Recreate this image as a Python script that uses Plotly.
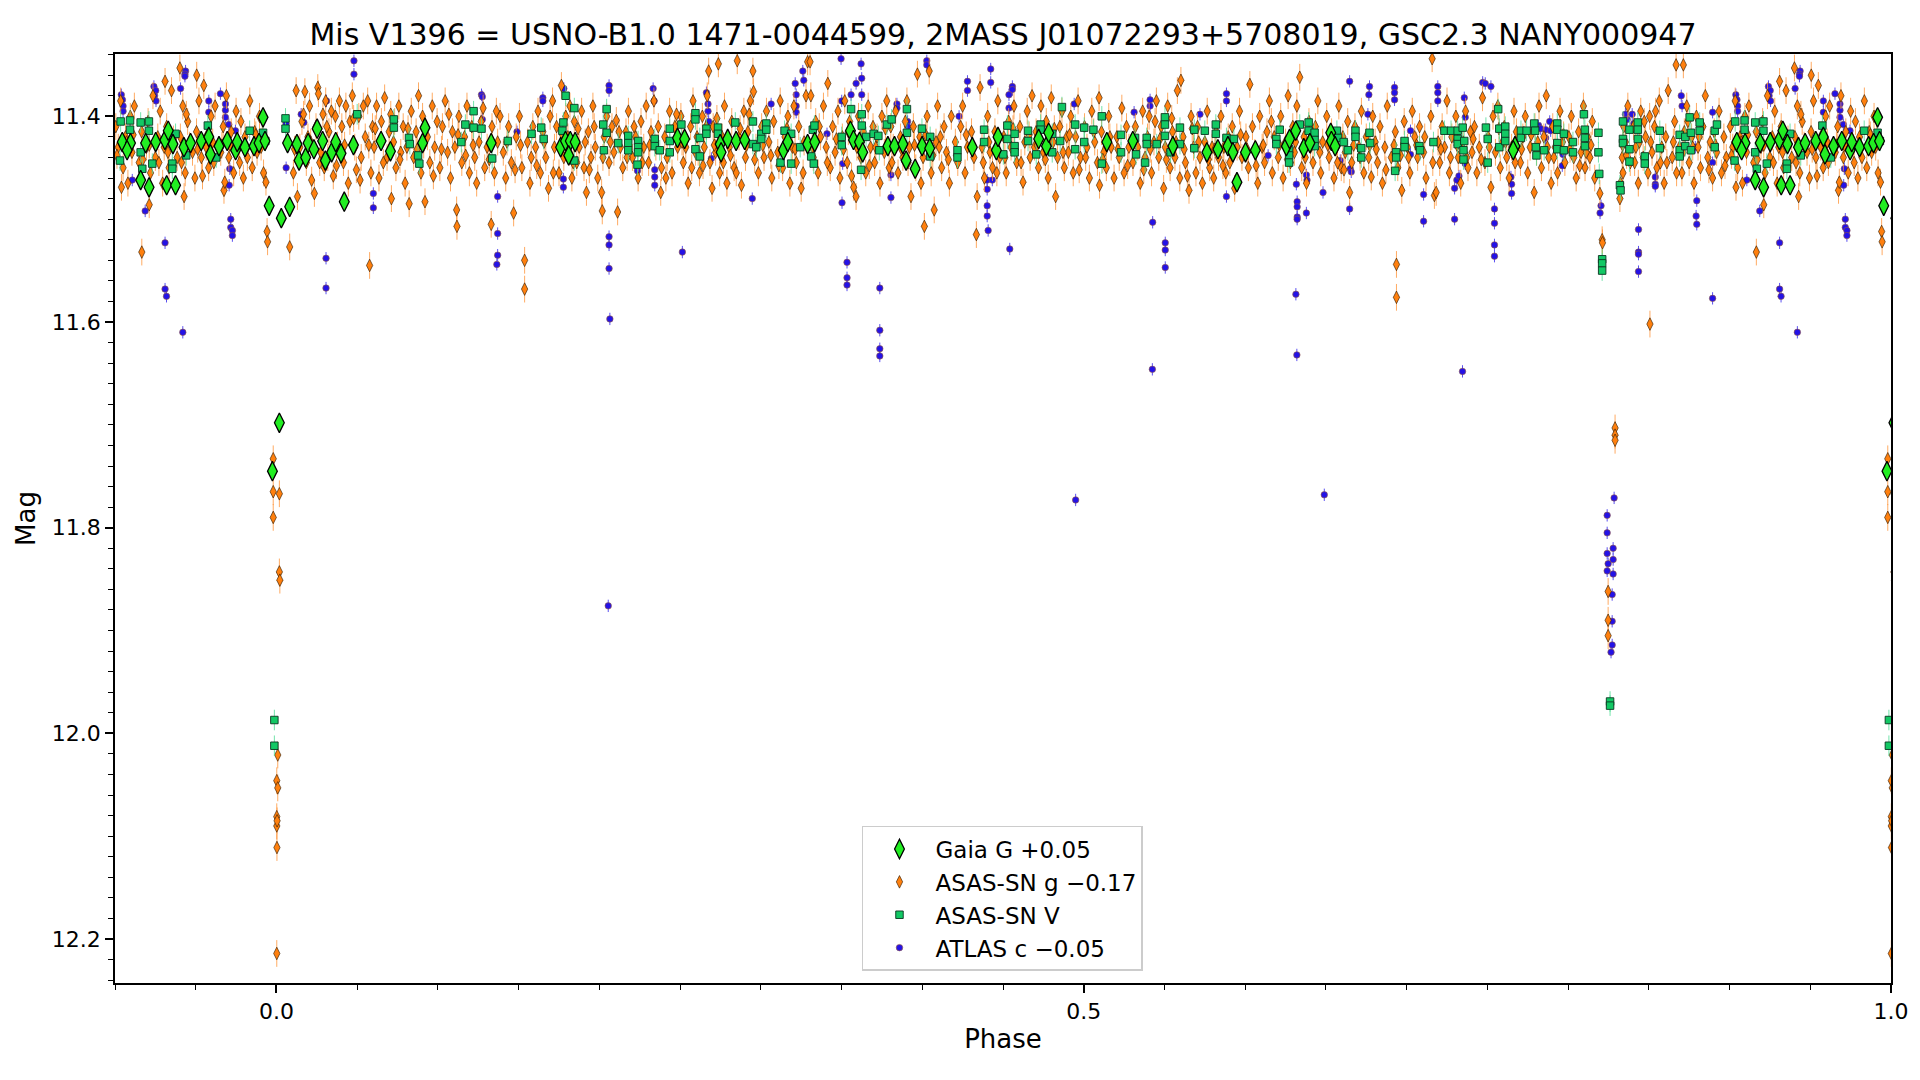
import plotly.graph_objects as go

TITLE = "Mis V1396 = USNO-B1.0 1471-0044599, 2MASS J01072293+5708019, GSC2.3 NANY000947"
NAMES = ["Gaia G +0.05", "ASAS-SN g \u22120.17", "ASAS-SN V", "ATLAS c \u22120.05"]
X_TICKS = [0.0, 0.5, 1.0]
X_TICK_TEXT = ["0.0", "0.5", "1.0"]
Y_TICKS = [11.4, 11.6, 11.8, 12.0, 12.2]

# typical photometric errors (mag)
ERR_G = 0.013
ERR_V = 0.010
ERR_ATLAS = 0.006

# (phase, mag) readings, phase in [0, 1)
GAIA = [
    (0.0018, 11.698), (0.9975, 11.745), (0.9955, 11.487), (0.0030, 11.499), (0.0082, 11.488),
    (0.0069, 11.426), (0.0127, 11.427), (0.0140, 11.443), (0.0181, 11.440), (0.0196, 11.426),
    (0.0232, 11.432), (0.0252, 11.412), (0.0286, 11.424), (0.0303, 11.443), (0.0342, 11.435),
    (0.0367, 11.425), (0.0400, 11.436), (0.0420, 11.483), (0.0477, 11.428), (0.0648, 11.424),
    (0.0706, 11.434), (0.0905, 11.426), (0.0920, 11.411), (0.1330, 11.426), (0.1760, 11.430),
    (0.1790, 11.424), (0.1820, 11.424), (0.1810, 11.438), (0.1850, 11.425), (0.2484, 11.421),
    (0.2528, 11.422), (0.2748, 11.427), (0.2754, 11.435), (0.2795, 11.422), (0.2847, 11.424),
    (0.2900, 11.423), (0.3140, 11.433), (0.3167, 11.425), (0.3290, 11.427), (0.3334, 11.425),
    (0.3555, 11.414), (0.3574, 11.423), (0.3611, 11.425), (0.3631, 11.435), (0.3787, 11.429),
    (0.3828, 11.429), (0.3880, 11.427), (0.3900, 11.443), (0.3956, 11.451), (0.3999, 11.429),
    (0.4046, 11.431), (0.4310, 11.430), (0.4459, 11.433), (0.4469, 11.420), (0.4721, 11.422),
    (0.4769, 11.429), (0.4783, 11.416), (0.5143, 11.425), (0.5304, 11.424), (0.5552, 11.429),
    (0.5763, 11.435), (0.5831, 11.432), (0.5893, 11.429), (0.5924, 11.435), (0.5949, 11.464),
    (0.6002, 11.435), (0.6063, 11.433), (0.6255, 11.429), (0.6275, 11.422), (0.6313, 11.414),
    (0.6363, 11.431), (0.6401, 11.426), (0.6530, 11.416), (0.6534, 11.424), (0.6557, 11.429),
    (0.7671, 11.429), (0.7660, 11.433), (0.9045, 11.425), (0.9096, 11.426), (0.9075, 11.433),
    (0.9159, 11.462), (0.9211, 11.469), (0.9190, 11.426), (0.9252, 11.425), (0.9309, 11.423),
    (0.9330, 11.414), (0.9320, 11.467), (0.9375, 11.467), (0.9359, 11.427), (0.9427, 11.430),
    (0.9468, 11.426), (0.9534, 11.424), (0.9581, 11.420), (0.9591, 11.437), (0.9644, 11.429),
    (0.9695, 11.424), (0.9747, 11.433), (0.9757, 11.425), (0.9805, 11.430), (0.9861, 11.429),
    (0.9892, 11.426), (0.9929, 11.424), (0.9917, 11.401),
]

ASASSN_G = [
    (0.0002, 12.046), (0.0002, 12.081), (0.0002, 12.090), (0.0002, 12.214), (0.0003, 12.111),
    (0.0004, 12.085), (0.0008, 12.021), (0.0008, 12.053), (0.0018, 11.767), (0.0018, 11.843),
    (0.0021, 11.851), (0.0082, 11.527),
    (0.0105, 11.455), (0.0122, 11.375), (0.0130, 11.478), (0.0145, 11.430), (0.0158, 11.405), (0.0176, 11.376), (0.0185, 11.445), (0.0195, 11.420),
    (0.0205, 11.390), (0.0218, 11.462), (0.0235, 11.475), (0.0245, 11.410), (0.0256, 11.372), (0.0260, 11.378), (0.0275, 11.435), (0.0288, 11.398), (0.0296, 11.450),
    (0.0305, 11.385), (0.0318, 11.440), (0.0325, 11.415), (0.0340, 11.395), (0.0352, 11.458), (0.0365, 11.400), (0.0378, 11.428), (0.0390, 11.385),
    (0.0405, 11.410), (0.0415, 11.445), (0.0430, 11.390), (0.0445, 11.465), (0.0455, 11.405), (0.0470, 11.380), (0.0485, 11.430), (0.0495, 11.452),
    (0.0510, 11.400), (0.0525, 11.440), (0.0538, 11.390), (0.0550, 11.420), (0.0565, 11.385), (0.0577, 11.545), (0.0585, 11.455), (0.0595, 11.410),
    (0.0605, 11.430), (0.0620, 11.390), (0.0635, 11.460), (0.0650, 11.405), (0.0670, 11.382), (0.0685, 11.440), (0.0698, 11.415),
    (0.0708, 11.398), (0.0712, 11.480), (0.0725, 11.425), (0.0740, 11.450), (0.0758, 11.390), (0.0770, 11.435), (0.0785, 11.410), (0.0797, 11.465),
    (0.0808, 11.430), (0.0822, 11.485), (0.0835, 11.395), (0.0850, 11.440), (0.0865, 11.415), (0.0880, 11.380), (0.0895, 11.455),
    (0.0905, 11.400), (0.0920, 11.483), (0.0935, 11.420), (0.0950, 11.445), (0.0965, 11.390), (0.0980, 11.430), (0.0995, 11.405),
    (0.1012, 11.450), (0.1028, 11.410), (0.1045, 11.385), (0.1060, 11.435), (0.1078, 11.460), (0.1090, 11.415),
    (0.1105, 11.430), (0.1116, 11.491), (0.1118, 11.507), (0.1130, 11.400), (0.1148, 11.445), (0.1165, 11.420), (0.1180, 11.390), (0.1195, 11.455),
    (0.1210, 11.410), (0.1228, 11.440), (0.1240, 11.465), (0.1255, 11.425), (0.1280, 11.392), (0.1290, 11.450),
    (0.1305, 11.430), (0.1330, 11.505), (0.1335, 11.410), (0.1350, 11.455), (0.1370, 11.425), (0.1385, 11.400),
    (0.1405, 11.435), (0.1420, 11.460), (0.1438, 11.410), (0.1455, 11.445), (0.1469, 11.494), (0.1485, 11.420),
    (0.1505, 11.400), (0.1520, 11.450), (0.1537, 11.540), (0.1537, 11.568), (0.1555, 11.425), (0.1570, 11.465), (0.1588, 11.410),
    (0.1605, 11.430), (0.1620, 11.395), (0.1635, 11.455), (0.1650, 11.415), (0.1668, 11.440), (0.1685, 11.470), (0.1695, 11.400),
    (0.1710, 11.385), (0.1722, 11.430), (0.1735, 11.410), (0.1750, 11.455), (0.1765, 11.370), (0.1780, 11.440), (0.1792, 11.400),
    (0.1805, 11.420), (0.1818, 11.390), (0.1830, 11.460), (0.1845, 11.405), (0.1860, 11.445), (0.1875, 11.430), (0.1890, 11.395),
    (0.1905, 11.450), (0.1920, 11.474), (0.1932, 11.415), (0.1948, 11.440), (0.1960, 11.390), (0.1975, 11.430), (0.1990, 11.460),
    (0.2014, 11.474), (0.2018, 11.492), (0.2030, 11.420), (0.2045, 11.400), (0.2060, 11.445), (0.2078, 11.410), (0.2090, 11.435),
    (0.2105, 11.404), (0.2113, 11.493), (0.2130, 11.430), (0.2145, 11.450), (0.2165, 11.415), (0.2180, 11.395),
    (0.2205, 11.440), (0.2225, 11.420), (0.2240, 11.460), (0.2258, 11.405), (0.2275, 11.430), (0.2290, 11.390),
    (0.2305, 11.445), (0.2320, 11.415), (0.2338, 11.385), (0.2350, 11.430), (0.2380, 11.474), (0.2385, 11.450),
    (0.2405, 11.420), (0.2420, 11.440), (0.2435, 11.395), (0.2450, 11.455), (0.2468, 11.410), (0.2485, 11.430),
    (0.2505, 11.400), (0.2520, 11.445), (0.2535, 11.430), (0.2550, 11.465), (0.2565, 11.410), (0.2580, 11.385), (0.2595, 11.435),
    (0.2605, 11.420), (0.2620, 11.455), (0.2638, 11.400), (0.2650, 11.430), (0.2668, 11.380), (0.2677, 11.356), (0.2685, 11.445), (0.2698, 11.470),
    (0.2705, 11.410), (0.2720, 11.435), (0.2737, 11.349), (0.2745, 11.455), (0.2760, 11.420), (0.2775, 11.390), (0.2790, 11.465),
    (0.2805, 11.430), (0.2820, 11.405), (0.2835, 11.450), (0.2854, 11.346), (0.2865, 11.420), (0.2880, 11.467), (0.2895, 11.395),
    (0.2905, 11.440), (0.2920, 11.415), (0.2935, 11.385), (0.2951, 11.356), (0.2955, 11.376), (0.2970, 11.430), (0.2985, 11.455),
    (0.3005, 11.410), (0.3020, 11.440), (0.3035, 11.395), (0.3050, 11.425), (0.3068, 11.460), (0.3080, 11.405),
    (0.3105, 11.435), (0.3120, 11.385), (0.3135, 11.450), (0.3150, 11.420), (0.3168, 11.400), (0.3180, 11.465), (0.3195, 11.430),
    (0.3205, 11.390), (0.3220, 11.445), (0.3235, 11.410), (0.3250, 11.470), (0.3268, 11.425), (0.3280, 11.380), (0.3290, 11.347),
    (0.3305, 11.347), (0.3310, 11.380), (0.3325, 11.440), (0.3340, 11.405), (0.3355, 11.455), (0.3370, 11.420), (0.3388, 11.390),
    (0.3405, 11.430), (0.3415, 11.368), (0.3430, 11.450), (0.3445, 11.410), (0.3460, 11.435), (0.3478, 11.395), (0.3490, 11.460),
    (0.3505, 11.420), (0.3520, 11.385), (0.3535, 11.445), (0.3550, 11.405), (0.3575, 11.469), (0.3590, 11.478), (0.3595, 11.430),
    (0.3605, 11.400), (0.3620, 11.440), (0.3635, 11.415), (0.3650, 11.455), (0.3665, 11.390), (0.3680, 11.430), (0.3695, 11.410),
    (0.3705, 11.445), (0.3720, 11.420), (0.3738, 11.465), (0.3750, 11.400), (0.3765, 11.435), (0.3780, 11.385), (0.3795, 11.450),
    (0.3805, 11.410), (0.3820, 11.430), (0.3835, 11.395), (0.3850, 11.455), (0.3865, 11.420), (0.3880, 11.440), (0.3895, 11.405),
    (0.3905, 11.385), (0.3920, 11.430), (0.3930, 11.478), (0.3945, 11.410), (0.3960, 11.450), (0.3970, 11.359), (0.3985, 11.420),
    (0.4005, 11.440), (0.4013, 11.507), (0.4030, 11.400), (0.4043, 11.356), (0.4055, 11.455), (0.4074, 11.491), (0.4085, 11.425), (0.4095, 11.390),
    (0.4105, 11.430), (0.4120, 11.450), (0.4135, 11.410), (0.4150, 11.435), (0.4168, 11.465), (0.4180, 11.400),
    (0.4205, 11.425), (0.4220, 11.445), (0.4238, 11.410), (0.4250, 11.390), (0.4265, 11.455), (0.4280, 11.430),
    (0.4305, 11.415), (0.4320, 11.440), (0.4335, 11.515), (0.4340, 11.478), (0.4358, 11.372), (0.4370, 11.430), (0.4385, 11.460),
    (0.4405, 11.400), (0.4420, 11.435), (0.4435, 11.450), (0.4450, 11.415), (0.4468, 11.385), (0.4480, 11.440),
    (0.4505, 11.420), (0.4520, 11.455), (0.4535, 11.405), (0.4550, 11.430), (0.4568, 11.390), (0.4585, 11.445),
    (0.4605, 11.410), (0.4624, 11.464), (0.4635, 11.425), (0.4650, 11.395), (0.4668, 11.440), (0.4680, 11.380), (0.4695, 11.430),
    (0.4705, 11.415), (0.4720, 11.450), (0.4735, 11.390), (0.4750, 11.435), (0.4768, 11.405), (0.4780, 11.460), (0.4799, 11.382),
    (0.4810, 11.425), (0.4826, 11.478), (0.4838, 11.440), (0.4852, 11.410), (0.4865, 11.395), (0.4880, 11.450), (0.4895, 11.420),
    (0.4905, 11.435), (0.4920, 11.400), (0.4935, 11.455), (0.4950, 11.420), (0.4965, 11.385), (0.4980, 11.440),
    (0.5005, 11.410), (0.5020, 11.430), (0.5035, 11.460), (0.5050, 11.395), (0.5068, 11.425), (0.5085, 11.445), (0.5095, 11.382),
    (0.5098, 11.467), (0.5110, 11.415), (0.5125, 11.435), (0.5140, 11.450), (0.5155, 11.400), (0.5170, 11.430), (0.5188, 11.460),
    (0.5205, 11.420), (0.5220, 11.440), (0.5236, 11.392), (0.5250, 11.455), (0.5265, 11.410), (0.5280, 11.430),
    (0.5305, 11.445), (0.5320, 11.410), (0.5335, 11.430), (0.5350, 11.465), (0.5365, 11.395), (0.5380, 11.440), (0.5395, 11.420),
    (0.5405, 11.400), (0.5420, 11.455), (0.5435, 11.425), (0.5450, 11.385), (0.5465, 11.440), (0.5480, 11.410), (0.5495, 11.470),
    (0.5505, 11.430), (0.5520, 11.390), (0.5535, 11.450), (0.5550, 11.415), (0.5565, 11.440), (0.5580, 11.375), (0.5595, 11.460),
    (0.5602, 11.365), (0.5615, 11.420), (0.5630, 11.445), (0.5652, 11.472), (0.5665, 11.400), (0.5680, 11.430), (0.5695, 11.455),
    (0.5705, 11.410), (0.5720, 11.440), (0.5735, 11.465), (0.5750, 11.425), (0.5765, 11.395), (0.5780, 11.450), (0.5795, 11.430),
    (0.5805, 11.460), (0.5820, 11.415), (0.5835, 11.440), (0.5850, 11.400), (0.5868, 11.430), (0.5880, 11.455), (0.5895, 11.420),
    (0.5905, 11.445), (0.5920, 11.410), (0.5935, 11.470), (0.5950, 11.430), (0.5965, 11.395), (0.5980, 11.440),
    (0.6005, 11.420), (0.6020, 11.450), (0.6029, 11.369), (0.6045, 11.410), (0.6060, 11.435), (0.6078, 11.465), (0.6090, 11.400),
    (0.6105, 11.430), (0.6120, 11.445), (0.6135, 11.415), (0.6150, 11.385), (0.6168, 11.455), (0.6180, 11.420),
    (0.6205, 11.440), (0.6220, 11.400), (0.6235, 11.460), (0.6250, 11.425), (0.6266, 11.380), (0.6280, 11.445), (0.6295, 11.410),
    (0.6305, 11.435), (0.6320, 11.390), (0.6338, 11.362), (0.6350, 11.450), (0.6365, 11.420), (0.6380, 11.465), (0.6395, 11.405),
    (0.6405, 11.430), (0.6420, 11.445), (0.6435, 11.410), (0.6450, 11.385), (0.6468, 11.455), (0.6480, 11.425),
    (0.6505, 11.400), (0.6520, 11.440), (0.6535, 11.415), (0.6550, 11.460), (0.6565, 11.430), (0.6580, 11.390), (0.6595, 11.450),
    (0.6605, 11.420), (0.6620, 11.435), (0.6635, 11.405), (0.6647, 11.474), (0.6660, 11.445), (0.6680, 11.410),
    (0.6705, 11.430), (0.6720, 11.395), (0.6735, 11.455), (0.6750, 11.420), (0.6765, 11.440), (0.6781, 11.459), (0.6790, 11.400),
    (0.6805, 11.425), (0.6820, 11.445), (0.6835, 11.410), (0.6850, 11.465), (0.6865, 11.430), (0.6880, 11.390),
    (0.6905, 11.440), (0.6937, 11.544), (0.6937, 11.576), (0.6930, 11.415), (0.6945, 11.450), (0.6970, 11.472), (0.6985, 11.405),
    (0.7005, 11.430), (0.7020, 11.455), (0.7035, 11.395), (0.7050, 11.420), (0.7068, 11.440), (0.7080, 11.410),
    (0.7105, 11.435), (0.7120, 11.460), (0.7158, 11.344), (0.7150, 11.400), (0.7172, 11.477), (0.7183, 11.474), (0.7195, 11.425),
    (0.7205, 11.445), (0.7220, 11.410), (0.7235, 11.430), (0.7250, 11.385), (0.7265, 11.455), (0.7280, 11.420),
    (0.7305, 11.400), (0.7320, 11.440), (0.7335, 11.465), (0.7350, 11.425), (0.7365, 11.395), (0.7380, 11.450), (0.7395, 11.415),
    (0.7405, 11.435), (0.7420, 11.410), (0.7435, 11.455), (0.7450, 11.430), (0.7470, 11.382), (0.7485, 11.445),
    (0.7505, 11.420), (0.7522, 11.469), (0.7535, 11.400), (0.7550, 11.435), (0.7565, 11.390), (0.7580, 11.450), (0.7595, 11.425),
    (0.7605, 11.410), (0.7620, 11.440), (0.7635, 11.460), (0.7650, 11.430), (0.7665, 11.395), (0.7680, 11.415),
    (0.7705, 11.445), (0.7720, 11.420), (0.7735, 11.400), (0.7750, 11.455), (0.7765, 11.430), (0.7790, 11.474), (0.7795, 11.410),
    (0.7805, 11.435), (0.7820, 11.390), (0.7835, 11.450), (0.7850, 11.420), (0.7865, 11.380), (0.7880, 11.440), (0.7895, 11.465),
    (0.7905, 11.410), (0.7920, 11.430), (0.7935, 11.455), (0.7950, 11.395), (0.7965, 11.425), (0.7980, 11.445),
    (0.8005, 11.420), (0.8020, 11.400), (0.8035, 11.440), (0.8050, 11.460), (0.8065, 11.415), (0.8080, 11.435), (0.8095, 11.390),
    (0.8105, 11.450), (0.8120, 11.420), (0.8135, 11.440), (0.8150, 11.405), (0.8165, 11.460), (0.8197, 11.475), (0.8211, 11.520), (0.8213, 11.523),
    (0.8248, 11.862), (0.8248, 11.890), (0.8248, 11.905), (0.8291, 11.703), (0.8291, 11.710), (0.8291, 11.715),
    (0.8321, 11.480), (0.8325, 11.465), (0.8335, 11.440), (0.8345, 11.410), (0.8340, 11.455), (0.8355, 11.425), (0.8370, 11.390), (0.8385, 11.445),
    (0.8405, 11.410), (0.8420, 11.430), (0.8435, 11.465), (0.8450, 11.395), (0.8465, 11.440), (0.8507, 11.602), (0.8480, 11.420), (0.8495, 11.455),
    (0.8505, 11.400), (0.8520, 11.435), (0.8535, 11.410), (0.8550, 11.450), (0.8565, 11.385), (0.8580, 11.430), (0.8595, 11.465),
    (0.8605, 11.420), (0.8620, 11.375), (0.8669, 11.350), (0.8645, 11.440), (0.8660, 11.405), (0.8714, 11.350), (0.8690, 11.430),
    (0.8705, 11.455), (0.8720, 11.415), (0.8735, 11.390), (0.8750, 11.445), (0.8765, 11.420), (0.8780, 11.465), (0.8795, 11.400),
    (0.8805, 11.430), (0.8820, 11.450), (0.8835, 11.410), (0.8850, 11.380), (0.8865, 11.440), (0.8880, 11.425), (0.8895, 11.460),
    (0.8905, 11.415), (0.8920, 11.435), (0.8935, 11.395), (0.8950, 11.455), (0.8965, 11.420), (0.8980, 11.440),
    (0.9005, 11.410), (0.9020, 11.430), (0.9035, 11.385), (0.9040, 11.469), (0.9050, 11.450), (0.9065, 11.420), (0.9080, 11.465), (0.9095, 11.400),
    (0.9105, 11.435), (0.9120, 11.390), (0.9166, 11.532), (0.9150, 11.445), (0.9165, 11.415), (0.9212, 11.486), (0.9195, 11.430),
    (0.9205, 11.405), (0.9220, 11.455), (0.9235, 11.380), (0.9250, 11.440), (0.9265, 11.420), (0.9280, 11.395), (0.9295, 11.465),
    (0.9305, 11.430), (0.9310, 11.366), (0.9320, 11.410), (0.9335, 11.450), (0.9350, 11.375), (0.9402, 11.353), (0.9385, 11.440), (0.9428, 11.478),
    (0.9405, 11.420), (0.9420, 11.390), (0.9435, 11.455), (0.9450, 11.405), (0.9506, 11.360), (0.9480, 11.435), (0.9495, 11.460),
    (0.9505, 11.415), (0.9520, 11.385), (0.9535, 11.440), (0.9550, 11.370), (0.9565, 11.430), (0.9580, 11.450), (0.9595, 11.400),
    (0.9605, 11.425), (0.9620, 11.390), (0.9675, 11.472), (0.9655, 11.435), (0.9670, 11.410), (0.9680, 11.464), (0.9690, 11.380),
    (0.9705, 11.440), (0.9720, 11.415), (0.9735, 11.455), (0.9750, 11.395), (0.9765, 11.430), (0.9780, 11.405), (0.9795, 11.460),
    (0.9805, 11.420), (0.9820, 11.440), (0.9835, 11.385), (0.9850, 11.450), (0.9865, 11.415), (0.9880, 11.435), (0.9895, 11.400),
    (0.9905, 11.430), (0.9920, 11.455), (0.9935, 11.464), (0.9942, 11.512), (0.9945, 11.522),
    (0.9980, 11.733), (0.9980, 11.765), (0.9980, 11.790),
    # denser in-band readings
    (0.0112, 11.432), (0.0168, 11.398), (0.0212, 11.425), (0.0268, 11.445), (0.0312, 11.410), (0.0372, 11.448),
    (0.0422, 11.428), (0.0478, 11.402), (0.0518, 11.462), (0.0572, 11.428), (0.0612, 11.412), (0.0662, 11.445),
    (0.0732, 11.405), (0.0765, 11.442), (0.0815, 11.412), (0.0872, 11.432), (0.0912, 11.428), (0.0972, 11.458),
    (0.1022, 11.432), (0.1068, 11.398), (0.1125, 11.418), (0.1172, 11.438), (0.1218, 11.428), (0.1268, 11.405),
    (0.1318, 11.442), (0.1362, 11.395), (0.1428, 11.425), (0.1478, 11.452), (0.1512, 11.428), (0.1578, 11.440),
    (0.1612, 11.448), (0.1658, 11.425), (0.1715, 11.455), (0.1772, 11.418), (0.1812, 11.435), (0.1868, 11.412),
    (0.1838, 11.445), (0.1912, 11.425), (0.1968, 11.410), (0.1938, 11.452), (0.2022, 11.440), (0.2068, 11.425),
    (0.2122, 11.415), (0.2172, 11.440), (0.2215, 11.410), (0.2265, 11.445), (0.2312, 11.428), (0.2365, 11.410),
    (0.2412, 11.460), (0.2478, 11.398), (0.2512, 11.425), (0.2572, 11.450), (0.2612, 11.435), (0.2662, 11.410),
    (0.2642, 11.448), (0.2712, 11.428), (0.2768, 11.445), (0.2728, 11.402), (0.2812, 11.438), (0.2872, 11.412),
    (0.2848, 11.455), (0.2912, 11.428), (0.2962, 11.442), (0.2928, 11.398), (0.3012, 11.428), (0.3062, 11.438),
    (0.3112, 11.448), (0.3162, 11.412), (0.3212, 11.432), (0.3262, 11.455), (0.3318, 11.430), (0.3362, 11.410),
    (0.3412, 11.445), (0.3468, 11.422), (0.3512, 11.432), (0.3562, 11.458), (0.3542, 11.415), (0.3612, 11.425),
    (0.3672, 11.448), (0.3712, 11.430), (0.3772, 11.412), (0.3812, 11.445), (0.3872, 11.432), (0.3912, 11.445),
    (0.3952, 11.428), (0.3992, 11.465), (0.4022, 11.418), (0.4065, 11.438), (0.4112, 11.420), (0.4162, 11.442),
    (0.4212, 11.438), (0.4272, 11.418), (0.4312, 11.428), (0.4378, 11.445), (0.4412, 11.425), (0.4462, 11.455),
    (0.4512, 11.440), (0.4562, 11.412), (0.4612, 11.445), (0.4662, 11.418), (0.4712, 11.428), (0.4762, 11.442),
    (0.4818, 11.412), (0.4872, 11.435), (0.4912, 11.418), (0.4972, 11.452), (0.5012, 11.440), (0.5062, 11.415),
    (0.5118, 11.442), (0.5162, 11.420), (0.5212, 11.432), (0.5272, 11.448), (0.5312, 11.425), (0.5372, 11.452),
    (0.5412, 11.432), (0.5472, 11.422), (0.5442, 11.405), (0.5512, 11.442), (0.5572, 11.425), (0.5545, 11.402),
    (0.5622, 11.432), (0.5672, 11.412), (0.5642, 11.458), (0.5712, 11.425), (0.5772, 11.442), (0.5812, 11.432),
    (0.5862, 11.448), (0.5912, 11.430), (0.5972, 11.418), (0.6012, 11.432), (0.6068, 11.448), (0.6112, 11.428),
    (0.6162, 11.405), (0.6212, 11.428), (0.6262, 11.442), (0.6312, 11.425), (0.6372, 11.440), (0.6412, 11.418),
    (0.6462, 11.435), (0.6512, 11.428), (0.6572, 11.445), (0.6612, 11.452), (0.6672, 11.428), (0.6712, 11.440),
    (0.6772, 11.428), (0.6812, 11.432), (0.6872, 11.452), (0.6922, 11.428), (0.6962, 11.438), (0.7012, 11.440),
    (0.7062, 11.428), (0.7112, 11.420), (0.7162, 11.445), (0.7212, 11.432), (0.7272, 11.440), (0.7312, 11.428),
    (0.7372, 11.440), (0.7412, 11.422), (0.7462, 11.442), (0.7512, 11.430), (0.7572, 11.412), (0.7612, 11.425),
    (0.7672, 11.445), (0.7712, 11.432), (0.7772, 11.418), (0.7812, 11.425), (0.7872, 11.430), (0.7912, 11.440),
    (0.7972, 11.418), (0.8012, 11.432), (0.8072, 11.448), (0.8112, 11.435), (0.8142, 11.428), (0.8338, 11.428),
    (0.8362, 11.438), (0.8412, 11.445), (0.8442, 11.425), (0.8472, 11.405), (0.8512, 11.425), (0.8572, 11.445),
    (0.8542, 11.395), (0.8612, 11.445), (0.8652, 11.425), (0.8672, 11.455), (0.8712, 11.435), (0.8772, 11.430),
    (0.8742, 11.405), (0.8812, 11.420), (0.8872, 11.452), (0.8912, 11.428), (0.8972, 11.448), (0.9012, 11.438),
    (0.9072, 11.425), (0.9112, 11.418), (0.9172, 11.442), (0.9212, 11.428), (0.9272, 11.445), (0.9328, 11.435),
    (0.9362, 11.422), (0.9412, 11.445), (0.9462, 11.428), (0.9442, 11.398), (0.9512, 11.432), (0.9572, 11.418),
    (0.9542, 11.458), (0.9612, 11.445), (0.9662, 11.428), (0.9712, 11.428), (0.9772, 11.445), (0.9812, 11.432),
    (0.9872, 11.418), (0.9912, 11.420),
]

ASASSN_V = [
    (0.9987, 11.987), (0.9987, 12.012), (0.8260, 11.969), (0.8260, 11.973),
    (0.0056, 11.402), (0.0056, 11.412), (0.0500, 11.398), (0.0727, 11.403), (0.0727, 11.411),
    (0.0821, 11.421), (0.0826, 11.427), (0.0877, 11.438), (0.0885, 11.446), (0.1145, 11.425),
    (0.1221, 11.395), (0.1170, 11.408), (0.1221, 11.411), (0.1270, 11.412), (0.1336, 11.441),
    (0.1433, 11.424), (0.1580, 11.417), (0.1655, 11.422), (0.1640, 11.411),
    (0.1791, 11.380), (0.1845, 11.392), (0.1777, 11.406), (0.1771, 11.414), (0.1845, 11.443),
    (0.2045, 11.393), (0.2045, 11.416), (0.2024, 11.408), (0.2028, 11.433), (0.2117, 11.426),
    (0.2179, 11.419), (0.2179, 11.426), (0.2179, 11.433), (0.2240, 11.424), (0.2240, 11.430),
    (0.2240, 11.435), (0.2236, 11.447), (0.2343, 11.422), (0.2343, 11.429), (0.2374, 11.433),
    (0.2436, 11.412), (0.2436, 11.424), (0.2436, 11.435), (0.2508, 11.408), (0.2595, 11.397),
    (0.2595, 11.403), (0.2595, 11.432), (0.2622, 11.421), (0.2622, 11.439), (0.2663, 11.412),
    (0.2663, 11.417), (0.2735, 11.411), (0.2735, 11.417), (0.2842, 11.406), (0.2951, 11.405),
    (0.2951, 11.427), (0.2972, 11.430), (0.3003, 11.417), (0.3003, 11.422), (0.3034, 11.407),
    (0.3034, 11.413), (0.3122, 11.445), (0.3147, 11.414), (0.3188, 11.417), (0.3188, 11.446),
    (0.3244, 11.430), (0.3322, 11.413), (0.3332, 11.409), (0.3312, 11.439), (0.3328, 11.446),
    (0.3501, 11.420), (0.3501, 11.428), (0.3559, 11.393), (0.3625, 11.398), (0.3625, 11.409),
    (0.3621, 11.452), (0.3652, 11.420), (0.3699, 11.417), (0.3728, 11.419), (0.3734, 11.433),
    (0.3781, 11.408), (0.3810, 11.403), (0.3905, 11.393), (0.3905, 11.416), (0.3998, 11.412),
    (0.4049, 11.420), (0.4049, 11.439), (0.4218, 11.433), (0.4218, 11.440), (0.4383, 11.413),
    (0.4383, 11.425), (0.4502, 11.437), (0.4527, 11.409), (0.4527, 11.422), (0.4572, 11.417),
    (0.4572, 11.429), (0.4572, 11.435), (0.4655, 11.414), (0.4655, 11.424), (0.4706, 11.437),
    (0.4733, 11.408), (0.4733, 11.413), (0.4805, 11.417), (0.4805, 11.435),
    (0.4865, 11.391), (0.4854, 11.424), (0.4947, 11.408), (0.4947, 11.432), (0.5003, 11.411),
    (0.5003, 11.425), (0.5060, 11.413), (0.5112, 11.400), (0.5112, 11.446), (0.5231, 11.418),
    (0.5231, 11.435), (0.5318, 11.421), (0.5324, 11.437), (0.5390, 11.421), (0.5390, 11.427),
    (0.5380, 11.445), (0.5452, 11.427), (0.5503, 11.401), (0.5503, 11.408), (0.5503, 11.419),
    (0.5538, 11.435), (0.5596, 11.411), (0.5596, 11.427), (0.5685, 11.413), (0.5685, 11.431),
    (0.5750, 11.414), (0.5818, 11.408), (0.5818, 11.417), (0.5884, 11.421), (0.5930, 11.422),
    (0.6193, 11.422), (0.6193, 11.427), (0.6214, 11.413), (0.6272, 11.432), (0.6272, 11.438),
    (0.6272, 11.445), (0.6338, 11.408), (0.6393, 11.406), (0.6393, 11.414), (0.6430, 11.416),
    (0.6430, 11.423), (0.6430, 11.429), (0.6568, 11.414), (0.6575, 11.421), (0.6610, 11.425),
    (0.6636, 11.433), (0.6683, 11.414), (0.6683, 11.420), (0.6719, 11.431), (0.6719, 11.440),
    (0.6770, 11.416), (0.6774, 11.426), (0.6929, 11.453), (0.6935, 11.435), (0.6935, 11.440),
    (0.6987, 11.424), (0.6987, 11.430), (0.7079, 11.429), (0.7083, 11.433), (0.7166, 11.425),
    (0.7234, 11.414), (0.7275, 11.414), (0.7316, 11.414), (0.7316, 11.422), (0.7316, 11.427),
    (0.7347, 11.411), (0.7357, 11.424), (0.7352, 11.433), (0.7352, 11.442), (0.7491, 11.411),
    (0.7502, 11.422), (0.7502, 11.445), (0.7567, 11.393), (0.7574, 11.412), (0.7574, 11.430),
    (0.7611, 11.410), (0.7611, 11.417), (0.7611, 11.424), (0.7708, 11.414), (0.7708, 11.421),
    (0.7743, 11.414), (0.7790, 11.407), (0.7796, 11.414), (0.7800, 11.430), (0.7804, 11.438),
    (0.7852, 11.433),
    (0.7933, 11.407), (0.7933, 11.413), (0.7933, 11.426), (0.7933, 11.432), (0.7974, 11.417),
    (0.7974, 11.433), (0.8030, 11.425), (0.8030, 11.435), (0.8098, 11.398), (0.8104, 11.413),
    (0.8104, 11.421), (0.8104, 11.429), (0.8188, 11.416), (0.8188, 11.435), (0.8193, 11.456),
    (0.8211, 11.539), (0.8211, 11.543), (0.8211, 11.550), (0.8321, 11.467), (0.8325, 11.472),
    (0.8340, 11.405), (0.8340, 11.422), (0.8340, 11.426), (0.8380, 11.413), (0.8380, 11.432),
    (0.8380, 11.444), (0.8432, 11.406), (0.8432, 11.413), (0.8432, 11.422), (0.8475, 11.439),
    (0.8475, 11.446), (0.8568, 11.414), (0.8568, 11.431), (0.8691, 11.418), (0.8691, 11.433),
    (0.8691, 11.439), (0.8726, 11.420), (0.8726, 11.429), (0.8753, 11.401), (0.8761, 11.416),
    (0.8761, 11.433), (0.8815, 11.406), (0.8815, 11.414), (0.8908, 11.414), (0.8908, 11.430),
    (0.8922, 11.408), (0.9035, 11.405), (0.9031, 11.443), (0.9093, 11.404), (0.9093, 11.413),
    (0.9159, 11.406), (0.9159, 11.435), (0.9169, 11.451), (0.9210, 11.405), (0.9210, 11.414),
    (0.9231, 11.446), (0.9355, 11.446), (0.9355, 11.451), (0.9375, 11.417), (0.9441, 11.438),
    (0.9575, 11.409), (0.9627, 11.440), (0.9834, 11.414), (0.9917, 11.416), (0.9931, 11.424),
]

ATLAS_C = [
    (0.0060, 11.407), (0.0060, 11.450), (0.0153, 11.398), (0.0170, 11.406), (0.0310, 11.385),
    (0.0307, 11.538), (0.0307, 11.567), (0.0480, 11.346), (0.0480, 11.359), (0.0600, 11.475),
    (0.0600, 11.489), (0.1270, 11.379), (0.1275, 11.381), (0.1275, 11.403), (0.1370, 11.478),
    (0.1370, 11.514), (0.1370, 11.535), (0.1365, 11.544), (0.1490, 11.415), (0.1650, 11.382),
    (0.1650, 11.385), (0.1780, 11.373), (0.1777, 11.461), (0.1777, 11.469), (0.2060, 11.370),
    (0.2060, 11.375), (0.2060, 11.517), (0.2060, 11.525), (0.2060, 11.548), (0.2065, 11.597),
    (0.2055, 11.876),
    (0.2333, 11.373), (0.2339, 11.385), (0.2343, 11.452), (0.2343, 11.459), (0.2343, 11.467),
    (0.2236, 11.453), (0.2514, 11.532), (0.2663, 11.377), (0.2673, 11.388), (0.2673, 11.395),
    (0.2677, 11.405), (0.2694, 11.441), (0.2947, 11.480), (0.3064, 11.388), (0.3213, 11.368),
    (0.3219, 11.379), (0.3219, 11.390), (0.3219, 11.396), (0.3260, 11.356), (0.3266, 11.365),
    (0.3410, 11.417), (0.3497, 11.344), (0.3501, 11.385), (0.3503, 11.484), (0.3534, 11.542),
    (0.3534, 11.557), (0.3534, 11.564), (0.3507, 11.446), (0.3559, 11.379), (0.3590, 11.368),
    (0.3621, 11.349), (0.3625, 11.363), (0.3625, 11.379), (0.3737, 11.567), (0.3737, 11.608),
    (0.3737, 11.626), (0.3737, 11.633), (0.3806, 11.457), (0.3806, 11.479), (0.3843, 11.388),
    (0.3843, 11.392), (0.3909, 11.405), (0.3909, 11.410), (0.4028, 11.346), (0.4028, 11.350),
    (0.4228, 11.400), (0.4280, 11.366), (0.4280, 11.375), (0.4402, 11.462), (0.4402, 11.471),
    (0.4402, 11.487), (0.4402, 11.497), (0.4408, 11.511), (0.4424, 11.354), (0.4424, 11.367),
    (0.4434, 11.462), (0.4542, 11.529), (0.4558, 11.371), (0.4558, 11.374), (0.4537, 11.379),
    (0.4537, 11.392),
    (0.4941, 11.388), (0.4950, 11.773), (0.5411, 11.384), (0.5411, 11.390), (0.5427, 11.503),
    (0.5425, 11.646), (0.5505, 11.523), (0.5505, 11.530), (0.5505, 11.547), (0.5312, 11.396),
    (0.5720, 11.398), (0.5884, 11.378), (0.5884, 11.385), (0.5884, 11.478), (0.6142, 11.438),
    (0.6317, 11.466), (0.6322, 11.483), (0.6322, 11.488), (0.6322, 11.498), (0.6322, 11.500),
    (0.6314, 11.573), (0.6320, 11.632), (0.6379, 11.494), (0.6379, 11.457), (0.6383, 11.462),
    (0.6490, 11.768), (0.6482, 11.474), (0.6589, 11.443), (0.6651, 11.451), (0.6657, 11.454),
    (0.6647, 11.490), (0.6647, 11.366), (0.6760, 11.398), (0.6766, 11.379), (0.6770, 11.371),
    (0.6925, 11.372), (0.6925, 11.377), (0.6925, 11.384), (0.7024, 11.414), (0.7024, 11.437),
    (0.7105, 11.476), (0.7105, 11.502), (0.7193, 11.371), (0.7193, 11.377), (0.7193, 11.385),
    (0.7297, 11.500), (0.7297, 11.470), (0.7311, 11.462), (0.7324, 11.458), (0.7346, 11.648),
    (0.7357, 11.382), (0.7363, 11.401), (0.7363, 11.446), (0.7544, 11.490), (0.7544, 11.504),
    (0.7544, 11.525), (0.7544, 11.536), (0.7471, 11.367), (0.7487, 11.368), (0.7522, 11.371),
    (0.7646, 11.459), (0.7650, 11.466), (0.7650, 11.475), (0.7817, 11.409),
    (0.7830, 11.412), (0.7861, 11.413), (0.7861, 11.421), (0.7886, 11.405), (0.7892, 11.414),
    (0.7964, 11.448), (0.7968, 11.437), (0.8204, 11.487), (0.8198, 11.494), (0.8355, 11.398),
    (0.8366, 11.403), (0.8397, 11.398), (0.8407, 11.407), (0.8436, 11.510), (0.8436, 11.532),
    (0.8436, 11.534), (0.8436, 11.551), (0.8540, 11.459), (0.8540, 11.466), (0.8540, 11.468),
    (0.8701, 11.380), (0.8706, 11.390), (0.8797, 11.482), (0.8793, 11.497), (0.8797, 11.505),
    (0.8788, 11.430), (0.8895, 11.577), (0.8895, 11.445), (0.8895, 11.396),
    (0.8285, 11.771), (0.8242, 11.788), (0.8242, 11.805), (0.8279, 11.820), (0.8242, 11.825),
    (0.8248, 11.835), (0.8279, 11.831), (0.8242, 11.842), (0.8279, 11.845), (0.8273, 11.865),
    (0.8273, 11.891), (0.8273, 11.914), (0.8266, 11.921),
    (0.9039, 11.379), (0.9046, 11.384), (0.9050, 11.390), (0.9050, 11.395), (0.9107, 11.462),
    (0.9187, 11.492), (0.9241, 11.371), (0.9252, 11.375), (0.9245, 11.380), (0.9254, 11.385),
    (0.9310, 11.523), (0.9310, 11.568), (0.9319, 11.575), (0.9420, 11.610), (0.9406, 11.373),
    (0.9437, 11.356), (0.9433, 11.359), (0.9433, 11.361), (0.9581, 11.385), (0.9581, 11.396),
    (0.9653, 11.378), (0.9711, 11.451), (0.9707, 11.467), (0.9684, 11.388), (0.9684, 11.394),
    (0.9684, 11.401), (0.9717, 11.500), (0.9717, 11.508), (0.9727, 11.511), (0.9727, 11.516),
    (0.9705, 11.408), (0.9746, 11.414),
]


def wrap(points):
    """Repeat phased points: phase>=0.9 also shown at phase-1, phase<0.01 at phase+1."""
    xs, ys = [], []
    for p, m in points:
        xs.append(p)
        ys.append(m)
        if p >= 0.9:
            xs.append(p - 1.0)
            ys.append(m)
        if p < 0.01:
            xs.append(p + 1.0)
            ys.append(m)
    return xs, ys


FONT = "DejaVu Sans"
fig = go.Figure()

ax, ay = wrap(ATLAS_C)
fig.add_trace(go.Scatter(
    x=ax, y=ay, mode="markers", name=NAMES[3], legendrank=4,
    marker=dict(symbol="circle", size=6.5, color="#2412e6",
                line=dict(color="rgba(150,90,60,0.75)", width=0.8)),
    error_y=dict(type="constant", value=ERR_ATLAS, color="#5a50f0", thickness=1, width=0),
))

gx, gy = wrap(ASASSN_G)
fig.add_trace(go.Scatter(
    x=gx, y=gy, mode="markers", name=NAMES[1], legendrank=2,
    marker=dict(symbol="diamond-tall", size=9, color="#ff800e",
                line=dict(color="rgba(50,25,0,0.9)", width=0.7)),
    error_y=dict(type="constant", value=ERR_G, color="rgba(255,150,60,0.8)", thickness=1, width=0),
))

vx, vy = wrap(ASASSN_V)
fig.add_trace(go.Scatter(
    x=vx, y=vy, mode="markers", name=NAMES[2], legendrank=3,
    marker=dict(symbol="square", size=7.5, color="#12c864",
                line=dict(color="#0a3520", width=0.9)),
    error_y=dict(type="constant", value=ERR_V, color="rgba(80,220,150,0.8)", thickness=1, width=0),
))

sx, sy = wrap(GAIA)
fig.add_trace(go.Scatter(
    x=sx, y=sy, mode="markers", name=NAMES[0], legendrank=1,
    marker=dict(symbol="diamond-tall", size=14, color="#22ee22",
                line=dict(color="black", width=1.3)),
))

axis_common = dict(
    showgrid=False, zeroline=False, showline=True, linecolor="black", linewidth=1.5,
    mirror=True, ticks="outside", ticklen=8, tickwidth=1.5, tickcolor="black",
    tickfont=dict(family=FONT, size=22, color="black"), automargin=False,
    ticklabeloverflow="allow",
)

# page body has an 8px default margin; figure is sized so the page is 1920x1080
fig.update_layout(
    width=1904, height=1064, autosize=False,
    paper_bgcolor="white", plot_bgcolor="white",
    margin=dict(l=107, r=21, t=46, b=89),
    title=dict(text=TITLE, x=0.5, xref="paper", xanchor="center",
               y=1 - 26 / 1064, yref="container", yanchor="middle",
               font=dict(family=FONT, size=30, color="black"), automargin=False),
    xaxis=dict(range=[-0.1, 1.0], tickvals=X_TICKS, ticktext=X_TICK_TEXT,
               title=dict(text="Phase", font=dict(family=FONT, size=26, color="black"), standoff=7),
               minor=dict(dtick=0.05, tick0=0, ticks="outside", ticklen=5, tickwidth=1.2,
                          tickcolor="black", showgrid=False),
               **axis_common),
    yaxis=dict(range=[12.2427, 11.3394], tickvals=Y_TICKS, tickformat=".1f",
               title=dict(text="Mag", font=dict(family=FONT, size=26, color="black"), standoff=9),
               minor=dict(dtick=0.02, tick0=11.4, ticks="outside", ticklen=5, tickwidth=1.2,
                          tickcolor="black", showgrid=False),
               **axis_common),
    legend=dict(x=0.4206, y=0.169, xanchor="left", yanchor="top",
                bgcolor="rgba(255,255,255,0.85)", bordercolor="#cccccc", borderwidth=1.5,
                font=dict(family=FONT, size=23, color="black"),
                traceorder="normal", itemwidth=62),
    showlegend=True,
)

fig.write_html("out.html")
